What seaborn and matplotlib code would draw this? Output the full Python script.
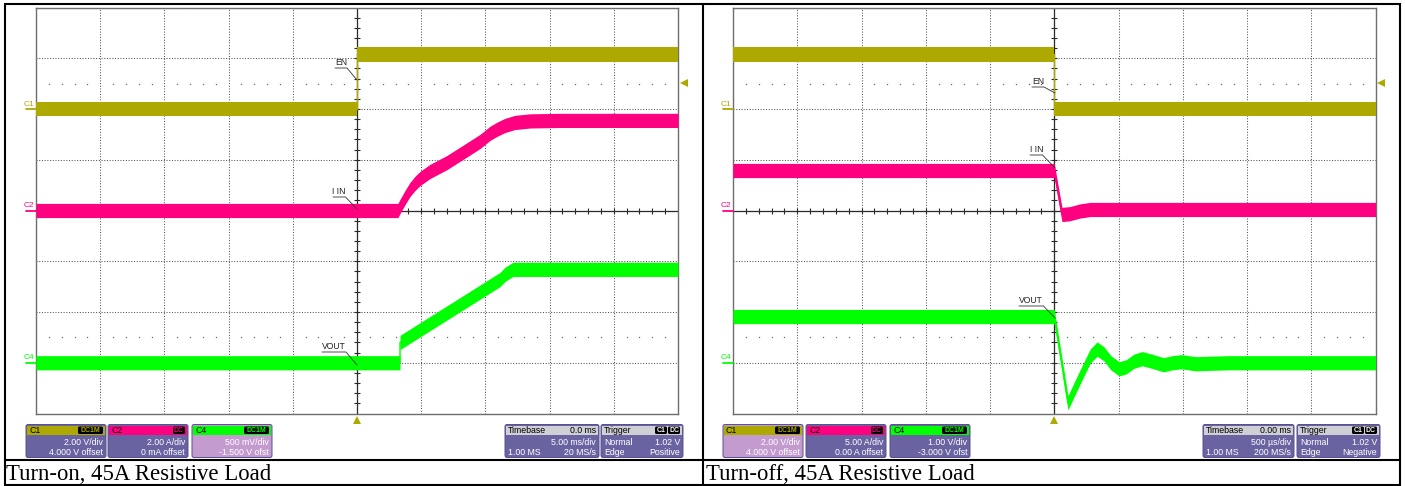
import numpy as np
import matplotlib
matplotlib.use("Agg")
import matplotlib.pyplot as plt
import matplotlib.transforms as mtransforms
from matplotlib.patches import FancyBboxPatch, Rectangle
import seaborn as sns

# ---------------- data ----------------
# Turn-on capture, time in ms (5 ms/div)
on_c1_t = [-25.0, 0.0, 0.0, 25.0]
on_c1_v = [0.0, 0.0, 2.15, 2.15]                       # EN, volts
on_c2_t = [-25.0, 3.19, 3.35, 3.74, 4.13, 4.52, 4.91, 5.69, 7.01, 9.58,
           10.36, 10.90, 11.52, 12.30, 13.47, 15.8, 25.0]
on_c2_a = [0.0, 0.0, 0.16, 0.51, 0.83, 1.07, 1.26, 1.54, 1.89, 2.72,
           3.04, 3.20, 3.35, 3.47, 3.53, 3.55, 3.55]    # I IN, amps
on_c4_t = [-25.0, 3.35, 3.35, 11.14, 11.52, 12.15, 25.0]
on_c4_v = [0.0, 0.0, 0.20, 0.82, 0.87, 0.92, 0.92]      # VOUT, volts

# Turn-off capture, time in ms (500 us/div)
off_c1_t = [-2.5, 0.0, 0.0, 2.5]
off_c1_v = [2.15, 2.15, 0.0, 0.0]
off_c2_t = [-2.5, 0.0, 0.06, 0.12, 0.20, 0.28, 2.5]
off_c2_a = [3.94, 3.94, -0.39, -0.32, -0.05, 0.10, 0.10]
off_c4_t = [-2.5, 0.0, 0.107, 0.16, 0.22, 0.28, 0.333, 0.385, 0.44, 0.505, 0.56,
            0.62, 0.683, 0.76, 0.85, 0.92, 0.99, 1.10, 1.35, 2.5]
off_c4_v = [0.91, 0.91, -0.79, -0.50, -0.18, 0.13, 0.27, 0.18, 0.0, -0.12, -0.08,
            0.03, 0.08, 0.03, -0.04, 0.0, 0.02, -0.02, 0.0, 0.0]

# scope settings
on_scales = [2.0, 2.0, 0.5]      # per-div: C1, C2, C4
on_offsets = [4.0, 0.0, -1.5]
off_scales = [2.0, 5.0, 1.0]
off_offsets = [4.0, 0.0, -3.0]
on_timebase = 5.0                # ms/div
off_timebase = 0.5               # ms/div
trigger_level = 1.02             # V on C1

channel_names = ["C1", "C2", "C4"]
trace_labels = ["EN", "I IN", "VOUT"]
on_chan_text = [["2.00 V/div", "4.000 V offset"], ["2.00 A/div", "0 mA offset"], ["500 mV/div", "-1.500 V ofst"]]
off_chan_text = [["2.00 V/div", "4.000 V offset"], ["5.00 A/div", "0.00 A offset"], ["1.00 V/div", "-3.000 V ofst"]]
chan_badges = ["DC1M", "DC", "DC1M"]
on_timebase_text = ["0.0 ms", "5.00 ms/div", "1.00 MS", "20 MS/s"]
off_timebase_text = ["0.00 ms", "500 \u00b5s/div", "1.00 MS", "200 MS/s"]
on_trigger_text = ["Normal", "1.02 V", "Edge", "Positive"]
off_trigger_text = ["Normal", "1.02 V", "Edge", "Negative"]
captions = ["Turn-on, 45A Resistive Load", "Turn-off, 45A Resistive Load"]

# ---------------- style ----------------
sns.set_theme(style="white")
plt.rcParams["font.family"] = ["Liberation Sans", "DejaVu Sans"]

OLIVE = "#ADA900"
PINK = "#FF0080"
GREEN = "#00FF00"
colors = [OLIVE, PINK, GREEN]
PURPLE = "#6A63A1"
LIGHT = "#C49BCF"
HDR_GRAY = "#CFCFD6"
HALF = 0.14   # half thickness of the noisy trace band, in divisions
AXC = "#2a2a2a"

W, H = 1405, 486
fig = plt.figure(figsize=(W / 100, H / 100), dpi=100)
fig.patch.set_facecolor("white")


def px_rect(x0, y0, x1, y1):
    return [x0 / W, 1 - y1 / H, (x1 - x0) / W, (y1 - y0) / H]


def draw_scope(rect, tdiv, series, scales, offsets):
    ax = fig.add_axes(rect)
    ax.set_facecolor("white")
    ax.set_xlim(-5 * tdiv, 5 * tdiv)
    ax.set_ylim(-4, 4)
    ax.set_xticks(np.arange(-5, 6) * tdiv)
    ax.set_yticks(np.arange(-4, 5))
    ax.tick_params(length=0, labelbottom=False, labelleft=False)
    ax.grid(True, color="#555555", lw=0.75, ls=(0, (1, 1.6)))
    for s in ax.spines.values():
        s.set_color("#6e6e6e")
        s.set_linewidth(1.0)
    # sparse graticule dots
    xs = [k * 0.2 * tdiv for k in range(-24, 25) if k % 5 != 0]
    for yy in (2.5, -2.5):
        ax.plot(xs, [yy] * len(xs), ls="none", marker="s", ms=0.9, mew=0, color="#6a6a6a")
    # centre axes with 0.2-div ticks (traces drawn above them)
    ax.axhline(0, color=AXC, lw=0.9)
    ax.axvline(0, color=AXC, lw=0.9)
    tx = [k * 0.2 * tdiv for k in range(-24, 25)]
    ax.plot(tx, [0] * len(tx), ls="none", marker="|", ms=4.2, mew=0.8, color=AXC)
    ty = [k * 0.2 for k in range(-19, 20)]
    ax.plot([0] * len(ty), ty, ls="none", marker="_", ms=4.2, mew=0.8, color=AXC)
    trb = mtransforms.blended_transform_factory(ax.transData, ax.transAxes)
    ax.plot([0], [-0.017], transform=trb, marker="^", ms=5.5, mew=0, color=OLIVE, clip_on=False)

    for i, (t, v) in enumerate(series):
        tw = ax.twinx()
        sc, off = scales[i], offsets[i]
        tw.axis("off")
        va = np.asarray(v, dtype=float)
        tw.fill_between(t, va - HALF * sc, va + HALF * sc, color=colors[i], lw=0)
        sns.lineplot(x=t, y=v, ax=tw, color=colors[i], lw=1.0, sort=False, estimator=None)
        tw.set_xlim(-5 * tdiv, 5 * tdiv)
        tw.set_ylim(-4 * sc - off, 4 * sc - off)
        # ground marker and channel name at the left edge
        tr = mtransforms.blended_transform_factory(tw.transAxes, tw.transData)
        tw.plot([-0.016, 0.0], [0, 0], transform=tr, color=colors[i], lw=1.3, clip_on=False)
        tw.annotate(channel_names[i], xy=(-0.0105, 0), xycoords=tr, xytext=(0, 1.0),
                    textcoords="offset points", ha="center", va="bottom",
                    fontsize=6.0, color=colors[i], annotation_clip=False)
        if i == 0:
            tw.plot([1.009], [trigger_level], transform=tr, marker="<", ms=5.5, mew=0,
                    color=OLIVE, clip_on=False)
    return ax


draw_scope(px_rect(36, 7.5, 678, 413.5), on_timebase,
           [(on_c1_t, on_c1_v), (on_c2_t, on_c2_a), (on_c4_t, on_c4_v)],
           on_scales, on_offsets)
draw_scope(px_rect(733, 7.5, 1375.5, 413.5), off_timebase,
           [(off_c1_t, off_c1_v), (off_c2_t, off_c2_a), (off_c4_t, off_c4_v)],
           off_scales, off_offsets)

# ---------------- pixel overlay: labels, info panels, table ----------------
px = fig.add_axes([0, 0, 1, 1])
px.set_zorder(10)
px.patch.set_visible(False)
px.set_xlim(0, W)
px.set_ylim(H, 0)
px.axis("off")

# trace labels with underline + leader line (text left, text right, underline y, end x, end y)
label_geom = [
    [(335, 347, 68, 357, 80), (333, 345.5, 197, 357, 209), (322, 346, 352, 357, 365)],
    [(1032, 1044, 87, 1055, 93), (1030, 1042.5, 155, 1055, 168), (1019, 1043.5, 306, 1055, 318)],
]
for geoms in label_geom:
    for lbl, (xl, xr, yu, xe, ye) in zip(trace_labels, geoms):
        px.text((xl + xr) / 2, yu - 1.2, lbl, ha="center", va="bottom", fontsize=6.2, color="#222")
        px.plot([xl, xr, xe], [yu, yu, ye], color="#333", lw=0.6)


def rbox(x0, y0, x1, y1, fc, ec="none", lw=0.0, r=2.0, z=1):
    p = FancyBboxPatch((x0, y0), x1 - x0, y1 - y0,
                       boxstyle=f"round,pad=0,rounding_size={r}",
                       fc=fc, ec=ec, lw=lw, zorder=z)
    px.add_patch(p)


BY0, BY1 = 424.5, 457.5
HY1 = 435.0
ROW2, ROW3 = 442.3, 452.3
FS = 6.3


def chan_box(x0, x1, name, badge, color, lines, light):
    rbox(x0, BY0, x1, BY1, LIGHT if light else PURPLE, ec="#57508c", lw=0.7)
    px.add_patch(Rectangle((x0 + 1, BY0 + 1), x1 - x0 - 2, HY1 - BY0 - 1, fc=color, ec="none", zorder=2))
    px.text(x0 + 3, (BY0 + HY1) / 2 + 0.5, name, ha="left", va="center", fontsize=FS, color="black", zorder=3)
    bw = 25 if len(badge) > 2 else 12
    rbox(x1 - 3 - bw, BY0 + 2, x1 - 3, HY1 - 1, "black", r=1.5, z=3)
    px.text(x1 - 3 - bw / 2, (BY0 + HY1) / 2 + 0.5, badge, ha="center", va="center",
            fontsize=5.0, color=color, fontweight="bold", zorder=4)
    px.text(x1 - 3, ROW2, lines[0], ha="right", va="center", fontsize=FS, color="white", zorder=3)
    px.text(x1 - 3, ROW3, lines[1], ha="right", va="center", fontsize=FS, color="white", zorder=3)


def timebase_box(x0, x1, txt):
    rbox(x0, BY0, x1, BY1, PURPLE, ec="#57508c", lw=0.7)
    px.add_patch(Rectangle((x0 + 1, BY0 + 1), x1 - x0 - 2, HY1 - BY0 - 1, fc=HDR_GRAY, ec="none", zorder=2))
    px.text(x0 + 3, (BY0 + HY1) / 2 + 0.5, "Timebase", ha="left", va="center", fontsize=FS, color="black", zorder=3)
    px.text(x1 - 3, (BY0 + HY1) / 2 + 0.5, txt[0], ha="right", va="center", fontsize=FS, color="black", zorder=3)
    px.text(x1 - 3, ROW2, txt[1], ha="right", va="center", fontsize=FS, color="white", zorder=3)
    px.text(x0 + 3, ROW3, txt[2], ha="left", va="center", fontsize=FS, color="white", zorder=3)
    px.text(x1 - 3, ROW3, txt[3], ha="right", va="center", fontsize=FS, color="white", zorder=3)


def trigger_box(x0, x1, txt):
    rbox(x0, BY0, x1, BY1, PURPLE, ec="#57508c", lw=0.7)
    px.add_patch(Rectangle((x0 + 1, BY0 + 1), x1 - x0 - 2, HY1 - BY0 - 1, fc=HDR_GRAY, ec="none", zorder=2))
    px.text(x0 + 3, (BY0 + HY1) / 2 + 0.5, "Trigger", ha="left", va="center", fontsize=FS, color="black", zorder=3)
    rbox(x1 - 28, BY0 + 2, x1 - 16, HY1 - 1, "black", r=1.5, z=3)
    rbox(x1 - 15, BY0 + 2, x1 - 3, HY1 - 1, "black", r=1.5, z=3)
    px.text(x1 - 22, (BY0 + HY1) / 2 + 0.5, "C1", ha="center", va="center", fontsize=5.0,
            color="white", fontweight="bold", zorder=4)
    px.text(x1 - 9, (BY0 + HY1) / 2 + 0.5, "DC", ha="center", va="center", fontsize=5.0,
            color="white", fontweight="bold", zorder=4)
    px.text(x0 + 3, ROW2, txt[0], ha="left", va="center", fontsize=FS, color="white", zorder=3)
    px.text(x1 - 3, ROW2, txt[1], ha="right", va="center", fontsize=FS, color="white", zorder=3)
    px.text(x0 + 3, ROW3, txt[2], ha="left", va="center", fontsize=FS, color="white", zorder=3)
    px.text(x1 - 3, ROW3, txt[3], ha="right", va="center", fontsize=FS, color="white", zorder=3)


on_boxes = [(26, 106), (108, 188), (192, 272)]
off_boxes = [(723, 803), (806, 886), (890, 970)]
for i in range(3):
    chan_box(*on_boxes[i], channel_names[i], chan_badges[i], colors[i], on_chan_text[i], light=(i == 2))
    chan_box(*off_boxes[i], channel_names[i], chan_badges[i], colors[i], off_chan_text[i], light=(i == 0))
timebase_box(505, 599, on_timebase_text)
trigger_box(601, 683, on_trigger_text)
timebase_box(1203, 1294, off_timebase_text)
trigger_box(1297, 1380, off_trigger_text)

# table frame
LW = 1.5
px.plot([4.5, 1399.5, 1399.5, 4.5, 4.5], [4.5, 4.5, 484.5, 484.5, 4.5], color="black", lw=LW,
        solid_joinstyle="miter")
px.plot([702.5, 702.5], [4.5, 484.5], color="black", lw=LW)
px.plot([4.5, 1399.5], [460, 460], color="black", lw=LW)

# captions
for cx, cap in zip((6, 706), captions):
    px.text(cx, 474.5, cap, ha="left", va="center", fontsize=16.4,
            family=["Liberation Serif", "DejaVu Serif"], color="black")

fig.savefig("out.png", dpi=100, facecolor="white")
